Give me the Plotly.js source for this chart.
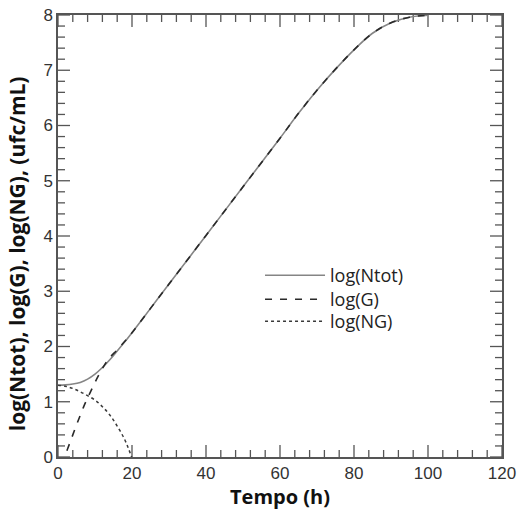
<!DOCTYPE html>
<html>
<head>
<meta charset="utf-8">
<script src="https://cdn.plot.ly/plotly-3.0.1.min.js"></script>
<style>
html,body{margin:0;padding:0;background:#fff;}
#chart{width:528px;height:511px;}
.modebar-container,.modebar{display:none !important;}
</style>
</head>
<body>
<div id="chart"></div>
<script>
// Time (h) and log counts
var tNtot = [0, 2, 4, 6, 8, 10, 12, 14, 16, 18, 20, 25, 30, 40, 50, 60, 65, 70, 75, 80, 85, 90, 95, 100];
var logNtot = [1.30, 1.305, 1.32, 1.35, 1.41, 1.50, 1.62, 1.76, 1.92, 2.08, 2.25, 2.69, 3.13, 4.01, 4.89, 5.77, 6.22, 6.64, 7.02, 7.37, 7.67, 7.86, 7.96, 7.995];

var tG = [1, 2, 3, 4, 5, 6, 7, 8, 9, 10, 11, 12, 13, 14, 16, 18, 20, 25, 30, 40, 50, 60, 65, 70, 75, 80, 85, 90, 95, 100];
var logG = [-0.14, 0.04, 0.22, 0.40, 0.58, 0.75, 0.92, 1.07, 1.21, 1.35, 1.48, 1.60, 1.71, 1.80, 1.94, 2.09, 2.25, 2.69, 3.13, 4.01, 4.89, 5.77, 6.22, 6.64, 7.02, 7.37, 7.67, 7.86, 7.96, 7.995];

var tNG = [0, 2, 4, 6, 8, 10, 12, 14, 16, 18, 19, 20];
var logNG = [1.30, 1.28, 1.24, 1.18, 1.11, 1.03, 0.91, 0.76, 0.56, 0.32, 0.16, -0.02];

var xTickVals = [0, 20, 40, 60, 80, 100, 120];
var yTickVals = [0, 1, 2, 3, 4, 5, 6, 7, 8];
var xMinorStep = 4;
var yMinorStep = 0.2;

var names = ['log(Ntot)', 'log(G)', 'log(NG)'];
var xTitle = 'Tempo (h)';
var yTitle = 'log(Ntot), log(G), log(NG), (ufc/mL)';

var W = 528, H = 511;
var M = {l: 58, r: 26, t: 15, b: 54};
var xRange = [xTickVals[0], xTickVals[xTickVals.length - 1]];
var yRange = [yTickVals[0], yTickVals[yTickVals.length - 1]];

// Axis tick marks (major + minor, on all four sides, pointing inwards), drawn as one line trace
var xPerPx = (xRange[1] - xRange[0]) / (W - M.l - M.r);
var yPerPx = (yRange[1] - yRange[0]) / (H - M.t - M.b);
var tickX = [], tickY = [];
function seg(x0, y0, x1, y1) { tickX.push(x0, x1, null); tickY.push(y0, y1, null); }
var nx = Math.round((xRange[1] - xRange[0]) / xMinorStep);
for (var i = 0; i <= nx; i++) {
  var xv = xRange[0] + i * xMinorStep;
  var lx = (xTickVals.indexOf(xv) >= 0 ? 12 : 7) * yPerPx;
  seg(xv, yRange[0], xv, yRange[0] + lx);
  seg(xv, yRange[1], xv, yRange[1] - lx);
}
var ny = Math.round((yRange[1] - yRange[0]) / yMinorStep);
var perMajor = Math.round(1 / yMinorStep);
for (var j = 0; j <= ny; j++) {
  var yv = yRange[0] + j * yMinorStep;
  var ly = ((j % perMajor) === 0 ? 12 : 7) * xPerPx;
  seg(xRange[0], yv, xRange[0] + ly, yv);
  seg(xRange[1], yv, xRange[1] - ly, yv);
}

var traces = [
  {x: tickX, y: tickY, mode: 'lines', line: {color: '#555', width: 1.3}, showlegend: false, hoverinfo: 'skip', connectgaps: false},
  {x: tNtot, y: logNtot, name: names[0], legend: 'legend', mode: 'lines', line: {color: '#858585', width: 1.6, shape: 'spline'}},
  {x: tG, y: logG, name: names[1], legend: 'legend2', mode: 'lines', line: {color: '#2a2a2a', width: 1.6, dash: '7px,8px', shape: 'spline'}},
  {x: tNG, y: logNG, name: names[2], legend: 'legend3', mode: 'lines', line: {color: '#3a3a3a', width: 1.5, dash: 'dot', shape: 'spline'}}
];

var tickFont = {family: 'Liberation Sans, Arial, sans-serif', size: 17, color: '#333'};
var titleFont = {family: 'Open Sans, sans-serif', size: 20, color: '#111'};
var yTitleFont = {family: 'Open Sans, sans-serif', size: 21, color: '#111'};
var legendFont = {family: 'Open Sans, sans-serif', size: 18, color: '#222'};

function legendAt(y) {
  return {x: 0.455, y: y, xanchor: 'left', yanchor: 'top', bgcolor: 'rgba(0,0,0,0)',
          borderwidth: 0, font: legendFont, itemwidth: 60};
}

var layout = {
  width: W, height: H,
  margin: M,
  paper_bgcolor: '#fff', plot_bgcolor: '#fff',
  showlegend: true,
  xaxis: {
    range: xRange, tickmode: 'array', tickvals: xTickVals,
    showline: true, linecolor: '#555', linewidth: 1.5, mirror: true,
    ticks: '', showgrid: false, zeroline: false, tickfont: tickFont,
    title: {text: '<b>' + xTitle + '</b>', font: titleFont, standoff: 2}
  },
  yaxis: {
    range: yRange, tickmode: 'array', tickvals: yTickVals,
    showline: true, linecolor: '#555', linewidth: 1.5, mirror: true,
    ticks: '', showgrid: false, zeroline: false, tickfont: tickFont
  },
  annotations: [{
    text: '<b>' + yTitle + '</b>', xref: 'paper', yref: 'paper', x: -0.092, y: 0.459,
    xanchor: 'center', yanchor: 'middle', textangle: -90, showarrow: false, font: yTitleFont
  }],
  legend: legendAt(0.4525),
  legend2: legendAt(0.3982),
  legend3: legendAt(0.3484)
};

Plotly.newPlot('chart', traces, layout, {displayModeBar: false});
</script>
</body>
</html>
